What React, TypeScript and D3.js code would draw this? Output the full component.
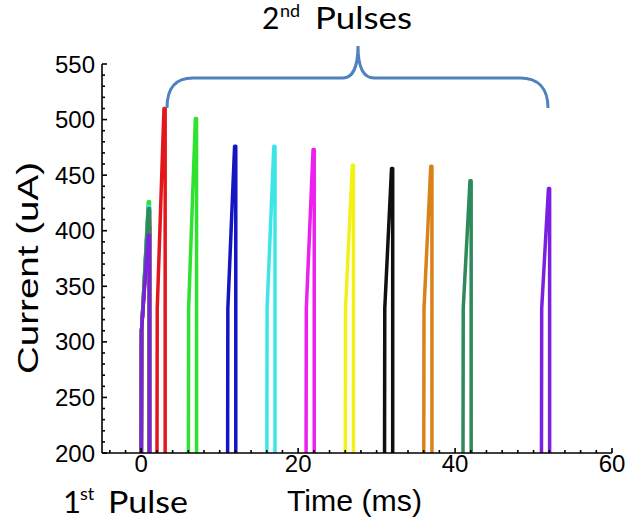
import React from 'react';
import * as d3 from 'd3';

// ---- data ----
const delays = [2, 6, 11, 16, 21, 26, 31, 36, 41, 51];
const firstPeaks = [410, 426, 418, 422, 412, 415, 404, 408, 420, 396];
const secondPeaks = [510, 501, 476, 476, 473, 459, 456, 458, 445, 438];
const traceColors = ['#e3161c', '#2fe22f', '#1515c4', '#3de6e6', '#ee20ee', '#f2f21a', '#101010', '#d9821a', '#2f8a5b', '#7b1fe2'];
const xTickLabels = [0, 20, 40, 60];
const yTickLabels = [200, 250, 300, 350, 400, 450, 500, 550];

const PULSE_WIDTH = 1.05;
const RAMP_END = 0.9;
const JUMP_LEVEL = 330;
const BASE_LEVEL = 150;

const W = 627;
const H = 521;

export default function App() {
  const x = d3.scaleLinear().domain([-5, 60]).range([102, 612]);
  const y = d3.scaleLinear().domain([200, 550]).range([453, 64]);

  const line = d3
    .line<[number, number]>()
    .x((d) => x(d[0]))
    .y((d) => y(d[1]));

  const traces = delays.map((d, i) => {
    const fp = firstPeaks[i];
    const sp = secondPeaks[i];
    const pts: [number, number][] = [
      [-5, BASE_LEVEL],
      [0, BASE_LEVEL],
      [0.04, JUMP_LEVEL - 20],
      [RAMP_END, fp],
      [PULSE_WIDTH, fp],
      [PULSE_WIDTH, BASE_LEVEL],
      [d, BASE_LEVEL],
      [d + 0.04, JUMP_LEVEL],
      [d + RAMP_END, sp],
      [d + PULSE_WIDTH, sp],
      [d + PULSE_WIDTH, BASE_LEVEL],
      [60, BASE_LEVEL],
    ];
    return { path: line(pts) as string, color: traceColors[i] };
  });

  const yMinor = d3.range(200, 551, 10);
  const xMinor = d3.range(-4, 61, 2);
  const [x0, x1] = x.range();
  const [yb, yt] = y.range();

  return (
    <div style={{ position: 'absolute', left: 0, top: 0 }}>
      <svg width={W} height={H} style={{ display: 'block', background: '#fff' }}>
        <defs>
          <clipPath id="plotClip">
            <rect x={x0} y={yt - 2} width={x1 - x0 + 2} height={yb - yt + 2} />
          </clipPath>
        </defs>

        {/* traces */}
        <g clipPath="url(#plotClip)">
          {traces.map((t, i) => (
            <path key={i} d={t.path} fill="none" stroke={t.color} strokeWidth={3.5} strokeLinejoin="round" />
          ))}
        </g>

        {/* axes */}
        <g stroke="#000" strokeWidth={1.6} fill="none">
          <line x1={x0} x2={x0} y1={yb} y2={yt} />
          <line x1={x0} x2={x1} y1={yb} y2={yb} />
          {yMinor.map((v) => (
            <line key={'ym' + v} x1={x0} x2={x0 + (v % 50 === 0 ? 5 : 3)} y1={y(v)} y2={y(v)} />
          ))}
          {xMinor.map((v) => (
            <line key={'xm' + v} x1={x(v)} x2={x(v)} y1={yb} y2={yb - (v % 20 === 0 ? 5 : 3)} />
          ))}
        </g>

        {/* tick labels */}
        <g fontFamily="'Liberation Sans', Arial, sans-serif" fontSize={24} fill="#000">
          {yTickLabels.map((v) => (
            <text key={'yl' + v} x={x0 - 7} y={y(v)} textAnchor="end" dominantBaseline="central">
              {v}
            </text>
          ))}
          {xTickLabels.map((v) => (
            <text key={'xl' + v} x={x(v)} y={472} textAnchor="middle">
              {v}
            </text>
          ))}
        </g>

        {/* axis titles */}
        <text
          transform="translate(38,268) rotate(-90)"
          textAnchor="middle"
          fontFamily="'Liberation Sans', Arial, sans-serif"
          fontSize={30}
          textLength={212}
          lengthAdjust="spacingAndGlyphs"
        >
          Current (uA)
        </text>
        <text x={287} y={511} fontFamily="'Liberation Sans', Arial, sans-serif" fontSize={30} textLength={135} lengthAdjust="spacingAndGlyphs">
          Time (ms)
        </text>

        {/* annotations */}
        <g fontFamily="Lato, 'Open Sans', sans-serif" fill="#000">
          <text x={262} y={29} fontSize={30}>
            2<tspan x={280} y={17} fontSize={18}>nd</tspan>
            <tspan x={315} y={29} textLength={97} lengthAdjust="spacingAndGlyphs">Pulses</tspan>
          </text>
          <text x={63} y={513} fontSize={31}>
            1<tspan x={80} y={500} fontSize={18}>st</tspan>
            <tspan x={108} y={513} textLength={80} lengthAdjust="spacingAndGlyphs">Pulse</tspan>
          </text>
        </g>

        <path
          d="M167,108 C167,88 175,78 193,78 L343,78 C352,78 358,68 358,46 C358,68 364,78 374,78 L520,78 C538,78 548,88 548,108"
          fill="none"
          stroke="#4f81bd"
          strokeWidth={3}
        />
      </svg>
    </div>
  );
}
